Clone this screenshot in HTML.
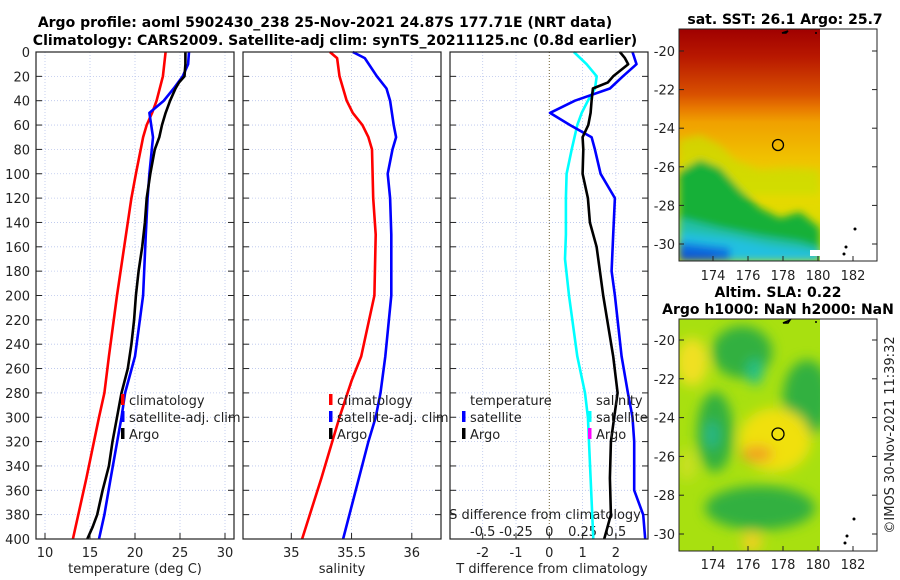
<!DOCTYPE html>
<html><head><meta charset="utf-8"><style>
html,body{margin:0;padding:0;background:#fff;}
svg{display:block;font-family:"DejaVu Sans","Liberation Sans",sans-serif;}
</style></head><body>
<svg id="fig" width="900" height="580" viewBox="0 0 900 580" xmlns="http://www.w3.org/2000/svg">
<defs>
<filter id="blur4" x="-20%" y="-20%" width="140%" height="140%"><feGaussianBlur stdDeviation="4"/></filter>
<filter id="blur6" x="-20%" y="-20%" width="140%" height="140%"><feGaussianBlur stdDeviation="6"/></filter>
<clipPath id="clipTop"><rect x="679" y="29" width="141" height="232"/></clipPath>
<clipPath id="clipBot"><rect x="679" y="319" width="141" height="232"/></clipPath>
<linearGradient id="sstGrad" x1="0" y1="0" x2="0" y2="1">
<stop offset="0" stop-color="#a00000"/><stop offset="0.12" stop-color="#b81800"/>
<stop offset="0.28" stop-color="#d85000"/><stop offset="0.34" stop-color="#e87800"/>
<stop offset="0.4" stop-color="#f0a000"/><stop offset="0.55" stop-color="#f0c000"/>
<stop offset="0.7" stop-color="#e8d800"/><stop offset="1" stop-color="#d0e000"/>
</linearGradient>
</defs>
<text x="325" y="27" text-anchor="middle" font-size="14" font-weight="bold">Argo profile: aoml 5902430_238 25-Nov-2021 24.87S 177.71E (NRT data)</text>
<text x="335" y="45" text-anchor="middle" font-size="14" font-weight="bold">Climatology: CARS2009. Satellite-adj clim: synTS_20211125.nc (0.8d earlier)</text>
<g id="panels"></g>
<g id="maps">
<text x="785" y="24" text-anchor="middle" font-size="14" font-weight="bold">sat. SST: 26.1 Argo: 25.7</text>
<g clip-path="url(#clipTop)">
<rect x="679" y="29" width="141" height="232" fill="url(#sstGrad)"/>
<g filter="url(#blur4)">
<polygon points="679,140 700,135 720,145 735,160 760,170 790,168 820,170 820,195 679,195" fill="#c8e000" opacity="0.7"/>
<polygon points="679,172 700,160 720,168 740,190 760,208 780,218 800,212 820,228 820,261 679,261" fill="#18b038"/>
<polygon points="679,218 720,228 760,236 800,242 820,248 820,261 679,261" fill="#20c0a8"/>
<polygon points="679,232 730,238 770,246 820,252 820,261 679,261" fill="#20c0e0"/>
<polygon points="679,242 730,248 730,261 679,261" fill="#1070e0"/>
<polygon points="679,252 715,255 715,261 679,261" fill="#1050d0"/>
</g>
<rect x="810" y="250" width="10" height="6" fill="#fff"/>
</g>
<rect x="679" y="29" width="198" height="232" fill="none" stroke="#222" stroke-width="1"/>
<circle cx="778" cy="145" r="5.5" fill="none" stroke="#000" stroke-width="1.3"/>
<path d="M782,33 l6,-2 l-2,2 z M815,33 h2" stroke="#000" stroke-width="1.5" fill="none"/>
<circle cx="855" cy="229" r="1.5"/><circle cx="846" cy="247" r="1.5"/><circle cx="844" cy="254" r="1.5"/>

<text x="778" y="297" text-anchor="middle" font-size="14" font-weight="bold">Altim. SLA: 0.22</text>
<text x="778" y="314" text-anchor="middle" font-size="14" font-weight="bold">Argo h1000: NaN h2000: NaN</text>
<g clip-path="url(#clipBot)">
<rect x="679" y="319" width="141" height="232" fill="#a8e010"/>
<g filter="url(#blur6)">
<ellipse cx="692" cy="362" rx="16" ry="24" fill="#f0e020"/>
<ellipse cx="742" cy="352" rx="30" ry="26" fill="#30b040"/>
<ellipse cx="755" cy="372" rx="8" ry="13" fill="#20c088"/>
<ellipse cx="807" cy="398" rx="24" ry="38" fill="#30b040"/>
<ellipse cx="715" cy="432" rx="18" ry="40" fill="#30b040"/>
<ellipse cx="712" cy="435" rx="7" ry="14" fill="#28b888"/>
<ellipse cx="775" cy="440" rx="36" ry="32" fill="#f0e010"/>
<ellipse cx="757" cy="454" rx="16" ry="8" fill="#f0a020"/>
<ellipse cx="760" cy="508" rx="55" ry="22" fill="#30b040"/>
<ellipse cx="752" cy="542" rx="10" ry="10" fill="#f0d020"/>
<ellipse cx="687" cy="465" rx="10" ry="16" fill="#c8e020"/>
</g>
</g>
<rect x="679" y="319" width="198" height="232" fill="none" stroke="#222" stroke-width="1"/>
<circle cx="778" cy="434" r="6" fill="none" stroke="#000" stroke-width="1.3"/>
<path d="M783,323 l7,-3 l-2,3 z M815,322 h2" stroke="#000" stroke-width="1.5" fill="none"/>
<circle cx="854" cy="519" r="1.5"/><circle cx="847" cy="536" r="1.5"/><circle cx="845" cy="543" r="1.5"/>
<text transform="translate(894,435) rotate(-90)" text-anchor="middle" font-size="13" fill="#222">©IMOS 30-Nov-2021 11:39:32</text>
</g>
</svg>
<script>
// ---------- data ----------
const depthTicks = [0,20,40,60,80,100,120,140,160,180,200,220,240,260,280,300,320,340,360,380,400];
const tempTicks = [10,15,20,25,30];
const salTicks = [35,35.5,36];
const salTickLabels = ["35","35.5","36"];
const dTTicks = [-2,-1,0,1,2];
const dSTicks = [-0.5,-0.25,0,0.25,0.5];
const dSTickLabels = ["-0.5","-0.25","0","0.25","0.5"];

const tClimDepth = [0,20,40,50,60,70,100,120,150,200,250,280,300,350,400];
const tClimVal   = [23.4,23.1,22.4,21.9,21.3,20.9,20.1,19.6,19.0,18.0,17.1,16.6,16.0,14.6,13.1];
const tSatDepth  = [0,10,20,30,40,50,70,100,120,150,200,250,280,300,350,380,400];
const tSatVal    = [26.0,25.9,25.3,24.3,23.2,21.6,22.0,21.6,21.4,21.2,20.9,20.0,18.9,18.5,17.3,16.6,16.0];
const tArgoDepth = [0,10,20,25,30,40,50,60,70,80,100,120,140,160,180,200,220,240,260,280,300,320,340,360,380,390,400];
const tArgoVal   = [25.6,25.6,25.5,24.9,24.5,23.9,23.4,23.0,22.7,22.2,21.7,21.3,21.1,20.8,20.4,20.1,19.9,19.6,19.2,18.5,18.0,17.5,17.1,16.4,15.8,15.3,14.7];

const sClimDepth = [0,5,20,40,50,60,70,80,120,150,200,250,270,300,350,400];
const sClimVal   = [35.32,35.38,35.40,35.46,35.51,35.59,35.64,35.67,35.68,35.70,35.69,35.58,35.50,35.40,35.25,35.09];
const sSatDepth  = [0,5,20,30,40,60,70,80,100,120,150,200,250,280,300,320,400];
const sSatVal    = [35.51,35.61,35.71,35.79,35.82,35.85,35.87,35.84,35.80,35.82,35.83,35.83,35.78,35.74,35.70,35.64,35.43];

const dTSatDepth  = [0,10,20,30,40,50,60,70,80,100,120,150,180,200,250,280,300,320,360,380,400];
const dTSatVal    = [2.5,2.62,2.21,1.82,0.77,0.02,0.62,1.27,1.37,1.54,1.97,1.92,1.87,1.97,2.17,2.36,2.5,2.55,2.55,2.82,2.88];
const dTArgoDepth = [0,5,10,20,25,30,40,50,60,70,80,100,120,140,160,180,200,250,280,300,320,350,380,400];
const dTArgoVal   = [2.12,2.27,2.37,1.92,1.76,1.31,1.27,1.24,1.17,1.0,1.02,1.0,1.16,1.22,1.42,1.52,1.62,1.92,2.05,1.95,1.85,1.82,1.85,1.65];
const dSSatDepth  = [0,10,20,30,40,50,60,80,100,120,150,170,200,250,280,300,350,400];
const dSSatVal    = [0.185,0.28,0.356,0.343,0.29,0.243,0.21,0.168,0.13,0.125,0.125,0.118,0.148,0.21,0.268,0.29,0.31,0.33];

const latTicks = [-20,-22,-24,-26,-28,-30];
const lonTicks = [174,176,178,180,182];

// ---------- axes ----------
const yD = d => 52 + d*1.2175;
const xT = t => 45 + (t-10)*9;
const xS = s => 291.3 + (s-35)*120.5;
const xdT = v => 549.3 + v*33.3;
const xdS = s => 549.3 + s*133.2;
const lon1 = l => 713 + (l-174)*17.5;
const latTop = l => 51 + (-20-l)*19.3;
const latBot = l => 340 + (-20-l)*19.4;

const NS = "http://www.w3.org/2000/svg";
const svg = document.getElementById('fig');
const g = document.getElementById('panels');
function mk(tag, attrs, parent){ const e=document.createElementNS(NS,tag); for(const k in attrs) e.setAttribute(k,attrs[k]); (parent||g).appendChild(e); return e; }
function txt(x,y,s,anchor,size,parent){ const e=mk('text',{x:x,y:y,'text-anchor':anchor||'middle','font-size':size||13,fill:'#222'},parent); e.textContent=s; return e; }
function path(xs,ys,xf,color,w){ let d=''; for(let i=0;i<xs.length;i++){ d+=(i?'L':'M')+xf(xs[i]).toFixed(1)+','+yD(ys[i]).toFixed(1);} return mk('path',{d:d,fill:'none',stroke:color,'stroke-width':w||2.6,'stroke-linejoin':'round'}); }

const panels = [{l:36,r:234},{l:243,r:441},{l:450,r:648}];
panels.forEach((p,i)=>{
  depthTicks.forEach(d=>{
    const gl = mk('line',{x1:p.l,x2:p.r,y1:yD(d),y2:yD(d),stroke:'#b8c4ec','stroke-width':0.8,'stroke-dasharray':'1,2'});
    
    
    mk('line',{x1:p.l,x2:p.l+6,y1:yD(d),y2:yD(d),stroke:'#222','stroke-width':1});
    mk('line',{x1:p.r-6,x2:p.r,y1:yD(d),y2:yD(d),stroke:'#222','stroke-width':1});
  });
});
depthTicks.forEach(d=>{
  const t = txt(30,yD(d)+5,String(d),'end',13);
  
  
});
tempTicks.forEach(t=>{
  mk('line',{x1:xT(t),x2:xT(t),y1:52,y2:539,stroke:'#b8c4ec','stroke-width':0.8,'stroke-dasharray':'1,2'});
  mk('line',{x1:xT(t),x2:xT(t),y1:533,y2:539,stroke:'#222'});
  const e=txt(xT(t),557,String(t));
  
  
});
salTicks.forEach((s,i)=>{
  mk('line',{x1:xS(s),x2:xS(s),y1:52,y2:539,stroke:'#b8c4ec','stroke-width':0.8,'stroke-dasharray':'1,2'});
  mk('line',{x1:xS(s),x2:xS(s),y1:533,y2:539,stroke:'#222'});
  const e=txt(xS(s),557,salTickLabels[i]);
  
  
});
dTTicks.forEach(v=>{
  if(v!==0) mk('line',{x1:xdT(v),x2:xdT(v),y1:52,y2:539,stroke:'#b8c4ec','stroke-width':0.8,'stroke-dasharray':'1,2'});
  mk('line',{x1:xdT(v),x2:xdT(v),y1:533,y2:539,stroke:'#222'});
  const e=txt(xdT(v),557,String(v));
  
  
});
const zl = mk('line',{x1:xdT(0),x2:xdT(0),y1:52,y2:539,stroke:'#706030','stroke-width':1,'stroke-dasharray':'1,2'});


dSTicks.forEach((s,i)=>{
  const e=txt(xdS(s),536,dSTickLabels[i]);
  
  
});
let e;
e=txt(545,519,'S difference from climatology','middle',13);  
e=txt(135,573,'temperature (deg C)');  
e=txt(342,573,'salinity');  
e=txt(552,573,'T difference from climatology');  

e=path(tClimVal,tClimDepth,xT,'#ff0000');  
e=path(tSatVal,tSatDepth,xT,'#0000ff');  
e=path(tArgoVal,tArgoDepth,xT,'#000000');  
e=path(sClimVal,sClimDepth,xS,'#ff0000');  
e=path(sSatVal,sSatDepth,xS,'#0000ff');  
e=path(dSSatVal,dSSatDepth,xdS,'#00ffff');  
e=path(dTSatVal,dTSatDepth,xdT,'#0000ff');  
e=path(dTArgoVal,dTArgoDepth,xdT,'#000000');  

panels.forEach(p=>{
  const f=mk('rect',{x:p.l,y:52,width:p.r-p.l,height:487,fill:'none',stroke:'#222','stroke-width':1.2});
  
  
});

function legItem(x,y,color,label){
  mk('rect',{x:x-2,y:y-11,width:3.5,height:11,fill:color});
  const t=txt(x+6,y,label,'start',13);
  
  
}
legItem(123,405,'#ff0000','climatology');
legItem(123,422,'#0000ff','satellite-adj. clim');
legItem(123,439,'#000000','Argo');
legItem(331,405,'#ff0000','climatology');
legItem(331,422,'#0000ff','satellite-adj. clim');
legItem(331,439,'#000000','Argo');
e=txt(470,405,'temperature','start',13);  
legItem(464,422,'#0000ff','satellite');
legItem(464,439,'#000000','Argo');
e=txt(596,405,'salinity','start',13);  
legItem(590,422,'#00ffff','satellite');
legItem(590,439,'#ff00ff','Argo');

const mg = document.getElementById('maps');
latTicks.forEach(l=>{
  [[latTop(l)],[latBot(l)]].forEach(([y])=>{
    mk('line',{x1:679,x2:684,y1:y,y2:y,stroke:'#222'},mg);
    mk('line',{x1:872,x2:877,y1:y,y2:y,stroke:'#222'},mg);
    const t=txt(675,y+5,String(l),'end',13,mg);
    
    
  });
});
lonTicks.forEach(l=>{
  [[261,280],[551,569]].forEach(([y0,ty])=>{
    mk('line',{x1:lon1(l),x2:lon1(l),y1:y0-5,y2:y0,stroke:'#222'},mg);
    const t=txt(lon1(l),ty,String(l),'middle',13,mg);
    
    
  });
});
</script>
</body></html>
